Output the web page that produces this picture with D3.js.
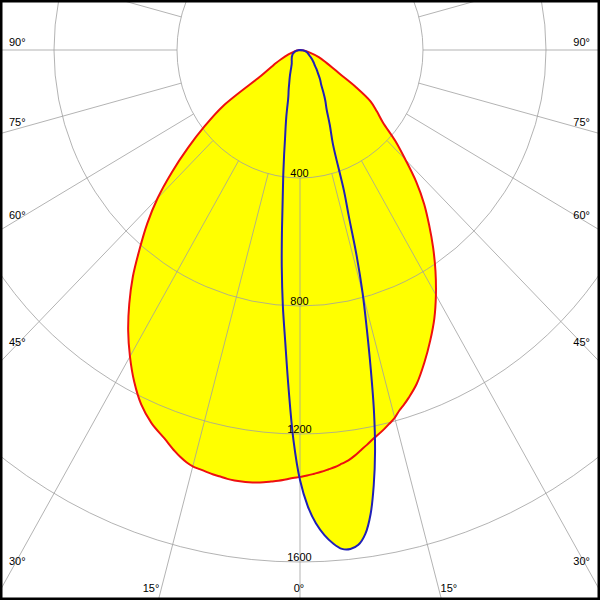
<!DOCTYPE html>
<html>
<head>
<meta charset="utf-8">
<script src="https://cdn.jsdelivr.net/npm/d3@7/dist/d3.min.js"></script>
<style>
  html, body { margin: 0; padding: 0; background: #fff; }
  svg { display: block; }
  text { font-family: "Liberation Sans", Arial, sans-serif; font-size: 11px; fill: #000; }
</style>
</head>
<body>
<svg id="chart" width="600" height="600"></svg>
<script>
// ---- data ----
const gammaAngles = [0,1,2,3,4,5,6,7,8,9,10,11,12,13,14,15,16,17,18,20,22.5,25,27.5,30,32.5,35,37.5,40,42.5,45,47.5,50,52.5,55,57.5,60,62.5,65,70,75,80,85,90];
// red plane, right half (C0) and left half (C180), cd
const redRight = [1334,1330,1325,1320,1314,1308,1300,1292,1280,1266,1253,1239,1228,1216,1203,1190,1172,1158,1143,1110,1057,1002,946,884,820,755,690,628,560,485,420,352,315,280,215,150,118,95,65,35,15,5,0];
const redLeft  = [1334,1338,1343,1348,1352,1356,1359,1361,1362,1362,1361,1358,1356,1353,1350,1347,1340,1330,1318,1291,1262,1222,1168,1106,1040,968,893,811,735,655,565,475,390,305,150,110,88,68,40,20,10,4,0];
// blue plane, right half (C90) and left half (C270), cd
const blueRight = [1344,1425,1480,1518,1546,1565,1568,1558,1527,1468,1381,1279,1158,1023,898,787,667,542,463,313,253,205,178,151,128,115,100,88,78,68,62,56,51,46,41,36,33,30,26,22,15,8,0];
const blueLeft  = [1344,1219,1060,915,800,680,560,460,390,330,280,245,215,185,160,145,135,125,115,100,85,72,62,55,50,47,44,42,40,38,36,35,33,31,30,28,26,24,20,16,11,6,0];
const ringValues = [400,800,1200,1600];
const ringLabels = ["400","800","1200","1600"];
const angleTicks = [0,15,30,45,60,75,90];

// ---- layout ----
const W = 600, H = 600;
const cx = 300, cy = 50;
const rx = d3.scaleLinear().domain([0,1600]).range([0,492]);
const ry = d3.scaleLinear().domain([0,1600]).range([0,512]);
const rad = d => d * Math.PI / 180;
// side: +1 right, -1 left
function pt(I, g, side) {
  return [cx + side * rx(I) * Math.sin(rad(g)), cy + ry(I) * Math.cos(rad(g))];
}

const svg = d3.select("#chart");
const gFill = svg.append("g");
const gGrid = svg.append("g");
const gLines = svg.append("g");
const gText = svg.append("g");

function planePoints(left, right) {
  const pts = [];
  for (let i = gammaAngles.length - 1; i >= 0; i--) pts.push(pt(left[i], gammaAngles[i], -1));
  for (let i = 1; i < gammaAngles.length - 1; i++) pts.push(pt(right[i], gammaAngles[i], 1));
  return pts;
}
const line = d3.line().curve(d3.curveCatmullRom.alpha(0.5));
const redPath = line(planePoints(redLeft, redRight)) + "Z";
const bluePath = line(planePoints(blueLeft, blueRight)) + "Z";

gFill.append("path").attr("d", redPath).attr("fill", "#ffff00");
gFill.append("path").attr("d", bluePath).attr("fill", "#ffff00");

// grid rings (ellipses because of unequal axis scales)
gGrid.selectAll("ellipse").data(ringValues).join("ellipse")
  .attr("cx", cx).attr("cy", cy)
  .attr("rx", d => rx(d)).attr("ry", d => ry(d))
  .attr("fill", "none").attr("stroke", "#a0a0a0").attr("stroke-opacity", 0.8).attr("stroke-width", 1);

// radial lines every 15 degrees starting at the first ring
const radial = d3.range(0, 360, 15);
gGrid.selectAll("line").data(radial).join("line")
  .attr("x1", a => cx + rx(ringValues[0]) * Math.sin(rad(a)))
  .attr("y1", a => cy + ry(ringValues[0]) * Math.cos(rad(a)))
  .attr("x2", a => cx + rx(4000) * Math.sin(rad(a)))
  .attr("y2", a => cy + ry(4000) * Math.cos(rad(a)))
  .attr("stroke", "#a0a0a0").attr("stroke-opacity", 0.8).attr("stroke-width", 1);

// curves
gLines.append("path").attr("d", redPath).attr("fill", "none").attr("stroke", "#ee1010").attr("stroke-width", 2);
gLines.append("path").attr("d", bluePath).attr("fill", "none").attr("stroke", "#2020b8").attr("stroke-width", 2);

// ring labels
gText.selectAll("text.ring").data(ringValues).join("text").attr("class", "ring")
  .attr("x", cx - 0.5).attr("y", d => cy + ry(d) - 1)
  .attr("text-anchor", "middle").text((d, i) => ringLabels[i]);

// angle labels
function slope(a) { // dy per unit |dx| along radial line at angle a
  return (Math.cos(rad(a)) * ry(1)) / (Math.sin(rad(a)) * rx(1));
}
angleTicks.forEach(a => {
  const s = slope(a);
  const edgeY = cy + cx * s;         // where line hits left/right edge
  if (a > 0 && edgeY <= H) {
    const yb = cy + (cx - 12) * s - 4;
    gText.append("text").attr("x", 9).attr("y", yb).attr("text-anchor", "start").text(a + "°");
    gText.append("text").attr("x", W - 10).attr("y", yb).attr("text-anchor", "end").text(a + "°");
  } else {
    // hits bottom edge
    const dx = a === 0 ? 0 : (H - cy) / s;
    if (a === 0) {
      gText.append("text").attr("x", cx - 1).attr("y", H - 8).attr("text-anchor", "middle").text(a + "°");
    } else {
      gText.append("text").attr("x", cx - dx + 1).attr("y", H - 8).attr("text-anchor", "end").text(a + "°");
      gText.append("text").attr("x", cx + dx - 1).attr("y", H - 8).attr("text-anchor", "start").text(a + "°");
    }
  }
});

// frame
svg.append("rect").attr("x", 0).attr("y", 0).attr("width", W).attr("height", H)
  .attr("fill", "none").attr("stroke", "#000").attr("stroke-width", 5);
</script>
</body>
</html>
